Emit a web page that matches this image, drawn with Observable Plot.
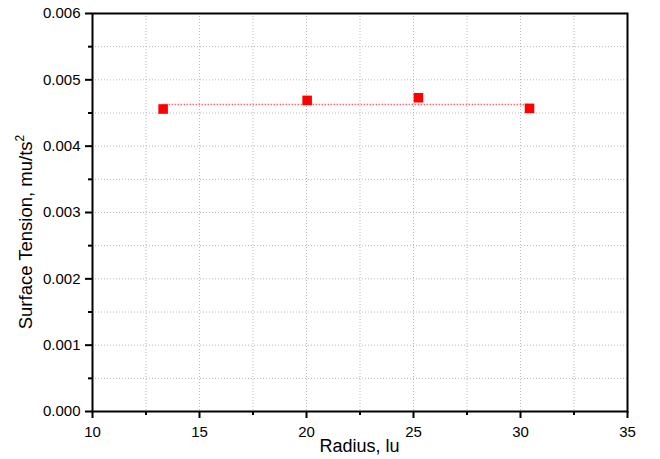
<!DOCTYPE html>
<html>
<head>
<meta charset="utf-8">
<script src="https://cdn.jsdelivr.net/npm/d3@7"></script>
<script src="https://cdn.jsdelivr.net/npm/@observablehq/plot@0.6"></script>
<style>
  html, body { margin: 0; padding: 0; background: #fff; }
  #chart svg { display: block; font-family: "Liberation Sans", Arial, sans-serif; }
</style>
</head>
<body>
<div id="chart"></div>
<script>
// Data
const radius = [13.3, 20.03, 25.23, 30.42];
const tension = [0.00456, 0.00469, 0.00473, 0.00457];
const meanTension = 0.00463;

const xTicks = [10, 15, 20, 25, 30, 35];
const xMinorTicks = [12.5, 17.5, 22.5, 27.5, 32.5];
const yTicks = [0, 0.001, 0.002, 0.003, 0.004, 0.005, 0.006];
const yMinorTicks = [0.0005, 0.0015, 0.0025, 0.0035, 0.0045, 0.0055];

const xLabel = "Radius, lu";
const yLabel = "Surface Tension, mu/ts";
const yLabelSup = "2";

const points = radius.map((r, i) => ({radius: r, tension: tension[i]}));
const gridX = xTicks.concat(xMinorTicks).filter(v => v > 10 && v < 35);
const gridY = yTicks.concat(yMinorTicks).filter(v => v > 0 && v < 0.006);

const chart = Plot.plot({
  width: 660,
  height: 459,
  marginLeft: 92,
  marginRight: 33,
  marginTop: 13,
  marginBottom: 48,
  style: {fontFamily: "Liberation Sans, Arial, sans-serif", background: "#fff", color: "#000"},
  x: {domain: [10, 35], label: null},
  y: {domain: [0, 0.006], label: null},
  marks: [
    Plot.gridX(gridX, {stroke: "#b8b8b8", strokeOpacity: 1, strokeDasharray: "1,2"}),
    Plot.gridY(gridY, {stroke: "#b8b8b8", strokeOpacity: 1, strokeDasharray: "1,2"}),
    Plot.ruleY([meanTension], {x1: radius[0], x2: radius[radius.length - 1], stroke: "#ff4040", strokeOpacity: 0.8, strokeWidth: 1.5, strokeDasharray: "1.5,1.5"}),
    Plot.dot(points, {x: "radius", y: "tension", symbol: "square", fill: "#ff0000", r: 5.4}),
    Plot.frame({stroke: "#000", strokeWidth: 2}),
    Plot.axisX(xTicks, {tickSize: 7, tickPadding: 8, fontSize: 15, tickFormat: d => d, strokeWidth: 2, label: null}),
    Plot.axisX(xMinorTicks, {tickSize: 4, tickFormat: () => "", strokeWidth: 2, label: null}),
    Plot.axisY(yTicks, {tickSize: 7, tickPadding: 5, fontSize: 15, tickFormat: d3.format(".3f"), strokeWidth: 2, label: null}),
    Plot.axisY(yMinorTicks, {tickSize: 4, tickFormat: () => "", strokeWidth: 2, label: null})
  ]
});

const svg = d3.select(chart);
svg.append("text")
  .attr("x", 359.5)
  .attr("y", 452)
  .attr("text-anchor", "middle")
  .attr("font-size", 18)
  .attr("fill", "#000")
  .text(xLabel);

const yl = svg.append("text")
  .attr("transform", "translate(32,232) rotate(-90)")
  .attr("text-anchor", "middle")
  .attr("font-size", 18.5)
  .attr("fill", "#000");
yl.append("tspan").text(yLabel);
yl.append("tspan").attr("font-size", 12).attr("dy", -8).text(yLabelSup);

document.getElementById("chart").appendChild(chart);
</script>
</body>
</html>
